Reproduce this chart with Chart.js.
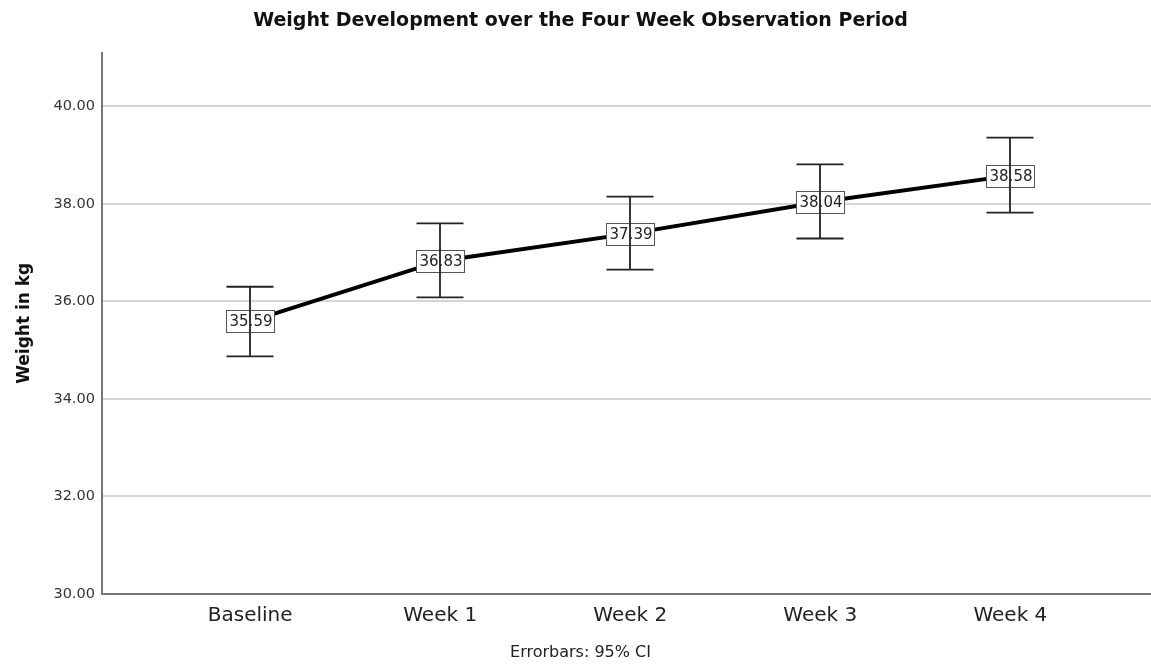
<!DOCTYPE html>
<html>
<head>
<meta charset="utf-8">
<script src="https://cdn.jsdelivr.net/npm/chart.js@4/dist/chart.umd.min.js"></script>
<style>
  body { margin: 0; background: #fff; }
  #wrap { width: 1151px; height: 666px; }
</style>
</head>
<body>
<div id="wrap"><canvas id="weightChart"></canvas></div>
<script>
// values
const timepoints = ['Baseline', 'Week 1', 'Week 2', 'Week 3', 'Week 4'];
const meanWeight = [35.59, 36.83, 37.39, 38.04, 38.58];
const ciLower = [34.87, 36.08, 36.65, 37.29, 37.82];
const ciUpper = [36.30, 37.60, 38.15, 38.81, 39.36];
const yTicks = [30, 32, 34, 36, 38, 40];

const FONT = "'DejaVu Sans', sans-serif";

// draws the value boxes and then the 95% CI error bars on top of them
const errorBarPlugin = {
  id: 'errorBars',
  afterDatasetsDraw(chart) {
    const ctx = chart.ctx;
    const xs = chart.scales.x;
    const ys = chart.scales.y;
    ctx.save();

    // value labels
    ctx.font = '15px ' + FONT;
    ctx.textAlign = 'center';
    ctx.textBaseline = 'middle';
    meanWeight.forEach((v, i) => {
      const x = Math.round(xs.getPixelForValue(i));
      const y = Math.round(ys.getPixelForValue(v));
      ctx.fillStyle = '#fff';
      ctx.fillRect(x - 24, y - 11, 49, 23);
      ctx.strokeStyle = '#555';
      ctx.lineWidth = 1;
      ctx.strokeRect(x - 24 + 0.5, y - 11 + 0.5, 48, 22);
      ctx.fillStyle = '#222';
      ctx.fillText(v.toFixed(2), x + 1, y + 1);
    });

    // error bars
    ctx.strokeStyle = '#222';
    ctx.lineWidth = 1.8;
    timepoints.forEach((t, i) => {
      const x = Math.round(xs.getPixelForValue(i));
      const yLo = ys.getPixelForValue(ciLower[i]);
      const yHi = ys.getPixelForValue(ciUpper[i]);
      ctx.beginPath();
      ctx.moveTo(x, yHi);
      ctx.lineTo(x, yLo);
      ctx.moveTo(x - 23.5, yHi);
      ctx.lineTo(x + 23.5, yHi);
      ctx.moveTo(x - 23.5, yLo);
      ctx.lineTo(x + 23.5, yLo);
      ctx.stroke();
    });
    ctx.restore();
  }
};

const ctx = document.getElementById('weightChart').getContext('2d');
new Chart(ctx, {
  type: 'line',
  data: {
    datasets: [{
      data: meanWeight.map((v, i) => ({ x: i, y: v })),
      borderColor: '#000',
      borderWidth: 4,
      pointRadius: 0,
      fill: false,
      tension: 0
    }]
  },
  options: {
    responsive: true,
    maintainAspectRatio: false,
    animation: false,
    layout: { padding: { left: 10, right: 0 } },
    scales: {
      x: {
        type: 'linear',
        min: -0.78,
        max: 4.74,
        afterBuildTicks: (scale) => {
          scale.ticks = timepoints.map((t, i) => ({ value: i }));
        },
        ticks: {
          autoSkip: false,
          maxRotation: 0,
          padding: 2,
          color: '#222',
          font: { family: FONT, size: 20 },
          callback: (v) => timepoints[v]
        },
        grid: { display: false },
        border: { display: true, color: '#777', width: 2 }
      },
      y: {
        min: 30,
        max: 41.1,
        afterBuildTicks: (scale) => {
          scale.ticks = yTicks.map(v => ({ value: v }));
        },
        ticks: {
          padding: 7,
          color: '#333',
          font: { family: FONT, size: 14.5 },
          callback: (v) => v.toFixed(2)
        },
        grid: { color: '#d4d4d4', lineWidth: 2, drawTicks: false },
        border: { display: true, color: '#777', width: 2 },
        title: {
          display: true,
          text: 'Weight in kg',
          color: '#111',
          font: { family: FONT, size: 17, weight: 'bold' },
          padding: { bottom: 12 }
        }
      }
    },
    plugins: {
      legend: { display: false },
      tooltip: { enabled: false },
      title: {
        display: true,
        text: 'Weight Development over the Four Week Observation Period',
        color: '#111',
        font: { family: FONT, size: 19, weight: 'bold' },
        padding: { top: 10, bottom: 20 }
      },
      subtitle: {
        display: true,
        position: 'bottom',
        text: 'Errorbars: 95% CI',
        color: '#222',
        font: { family: FONT, size: 16 },
        padding: { top: 13, bottom: 4 }
      }
    }
  },
  plugins: [errorBarPlugin]
});
</script>
</body>
</html>
